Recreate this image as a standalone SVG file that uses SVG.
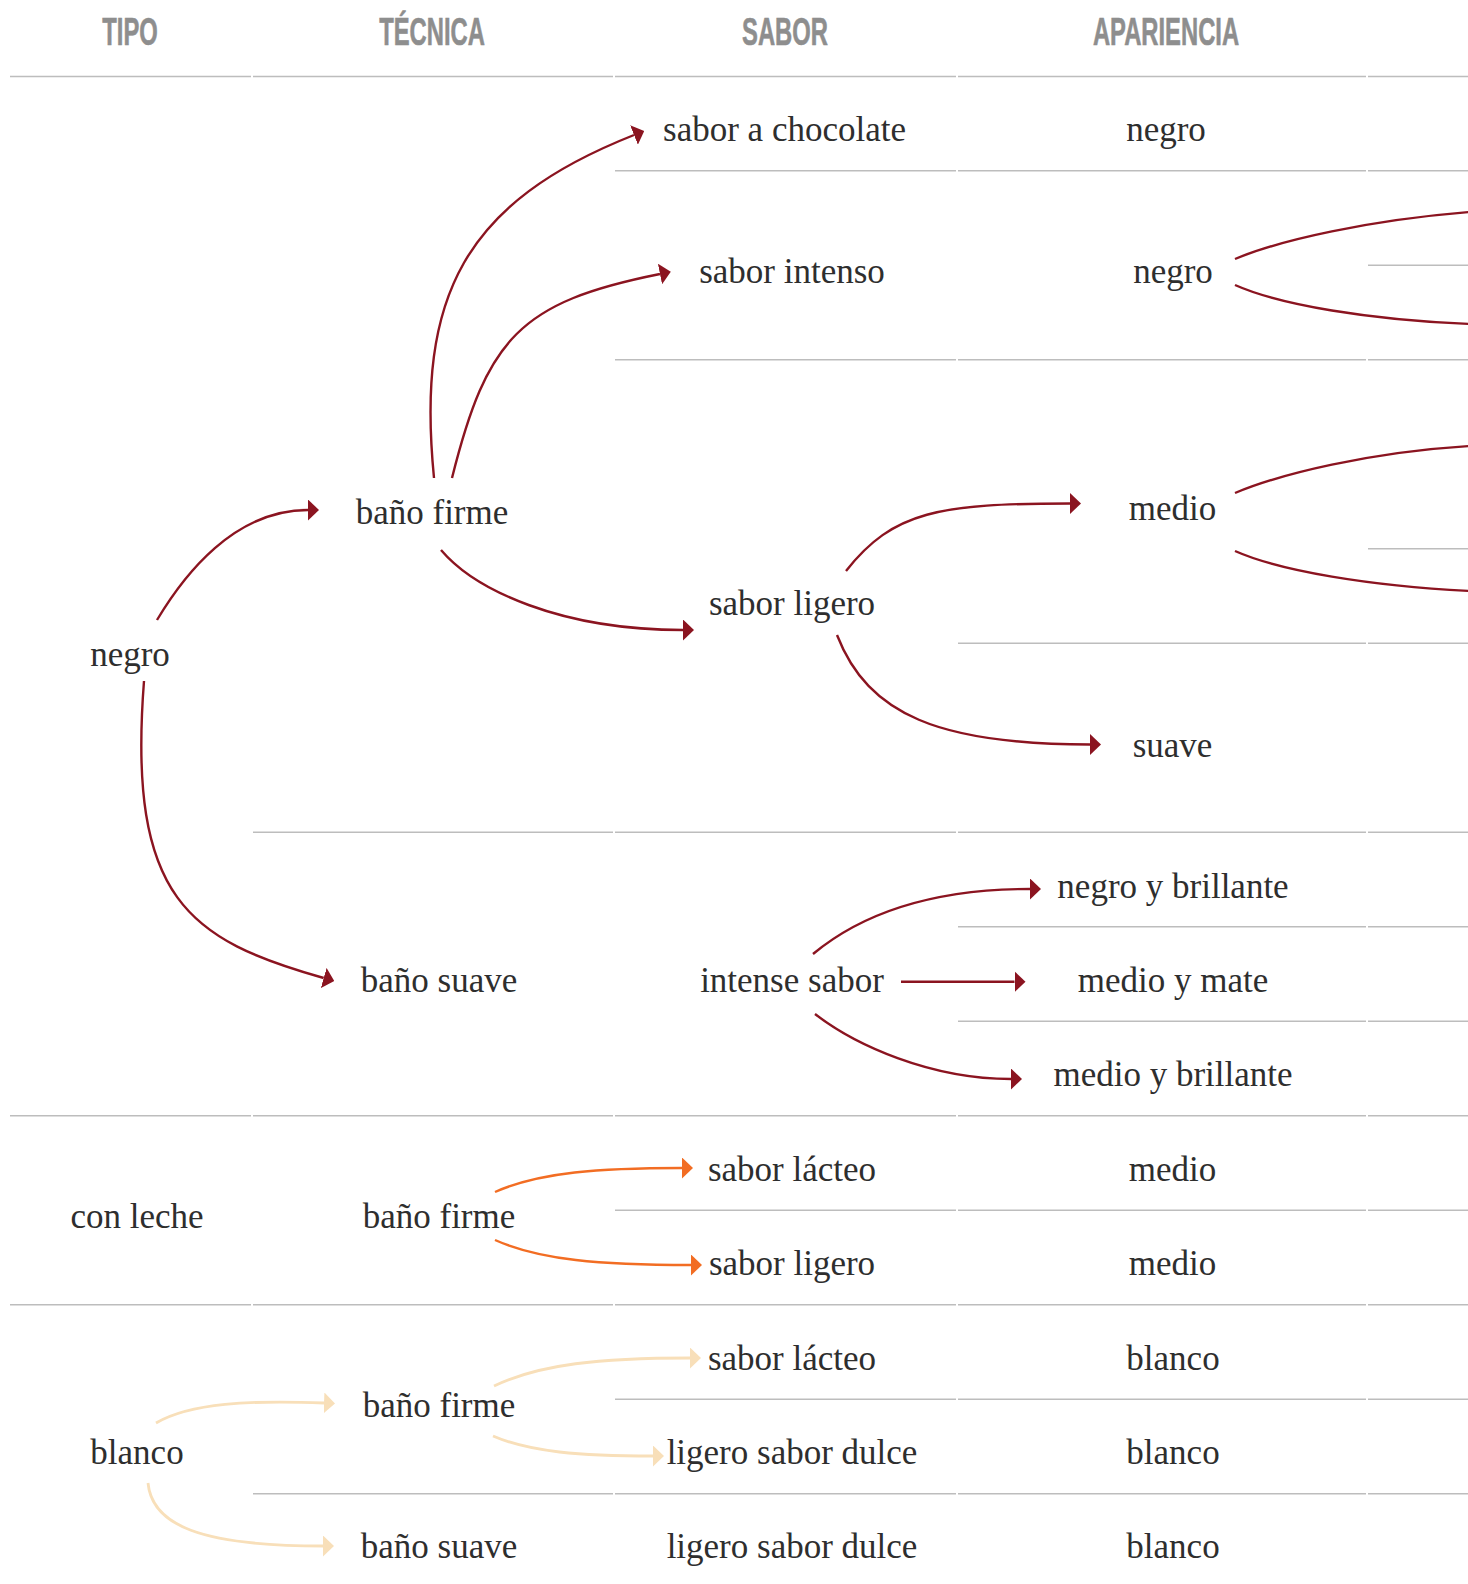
<svg xmlns="http://www.w3.org/2000/svg" width="1468" height="1584" viewBox="0 0 1468 1584">
  <defs>
    <style>
      .hdr { font-family: "Liberation Sans", Arial, sans-serif; font-weight: bold; font-size: 39px; fill: #8e8e8e; stroke: #8e8e8e; stroke-width: 0.6; text-anchor: middle; }
      .lbl { font-family: "Liberation Serif", "Times New Roman", serif; font-size: 35px; fill: #2e2e2e; text-anchor: middle; }
      .grid line { stroke: #bdbdbd; stroke-width: 1.5; }
      .c { fill: none; stroke-width: 2.4; stroke-linecap: butt; }
      .red { stroke: #8b1420; }
      .org { stroke: #f26d23; }
      .crm { stroke: #f8dfb9; stroke-width: 2.8; }
      .ar-red { marker-end: url(#mRed); }
      .ar-org { marker-end: url(#mOrg); }
      .ar-crm { marker-end: url(#mCrm); }
    </style>
    <marker id="mRed" markerUnits="userSpaceOnUse" viewBox="0 0 11 21" markerWidth="11" markerHeight="21" refX="0" refY="10.5" orient="auto">
      <path d="M0,0 L11,10.5 L0,21 Z" fill="#8b1420"/>
    </marker>
    <marker id="mOrg" markerUnits="userSpaceOnUse" viewBox="0 0 11 21" markerWidth="11" markerHeight="21" refX="0" refY="10.5" orient="auto">
      <path d="M0,0 L11,10.5 L0,21 Z" fill="#f26d23"/>
    </marker>
    <marker id="mCrm" markerUnits="userSpaceOnUse" viewBox="0 0 11 21" markerWidth="11" markerHeight="21" refX="0" refY="10.5" orient="auto">
      <path d="M0,0 L11,10.5 L0,21 Z" fill="#f8dfb9"/>
    </marker>
  </defs>

  <rect width="1468" height="1584" fill="#ffffff"/>

  <g id="headers">
    <text class="hdr" transform="translate(130 45) scale(0.61 1)">TIPO</text>
    <text class="hdr" transform="translate(432 45) scale(0.61 1)">TÉCNICA</text>
    <text class="hdr" transform="translate(785 45) scale(0.61 1)">SABOR</text>
    <text class="hdr" transform="translate(1166 45) scale(0.61 1)">APARIENCIA</text>
  </g>

  <g id="grid" class="grid">
    <line x1="10" y1="76.5" x2="251" y2="76.5"/><line x1="253" y1="76.5" x2="613" y2="76.5"/><line x1="615" y1="76.5" x2="956" y2="76.5"/><line x1="958" y1="76.5" x2="1366" y2="76.5"/><line x1="1368" y1="76.5" x2="1468" y2="76.5"/>
    <line x1="615" y1="170.7" x2="956" y2="170.7"/><line x1="958" y1="170.7" x2="1366" y2="170.7"/><line x1="1368" y1="170.7" x2="1468" y2="170.7"/>
    <line x1="1368" y1="265.2" x2="1468" y2="265.2"/>
    <line x1="615" y1="359.7" x2="956" y2="359.7"/><line x1="958" y1="359.7" x2="1366" y2="359.7"/><line x1="1368" y1="359.7" x2="1468" y2="359.7"/>
    <line x1="1368" y1="548.7" x2="1468" y2="548.7"/>
    <line x1="958" y1="643.2" x2="1366" y2="643.2"/><line x1="1368" y1="643.2" x2="1468" y2="643.2"/>
    <line x1="253" y1="832.2" x2="613" y2="832.2"/><line x1="615" y1="832.2" x2="956" y2="832.2"/><line x1="958" y1="832.2" x2="1366" y2="832.2"/><line x1="1368" y1="832.2" x2="1468" y2="832.2"/>
    <line x1="958" y1="926.7" x2="1366" y2="926.7"/><line x1="1368" y1="926.7" x2="1468" y2="926.7"/>
    <line x1="958" y1="1021.2" x2="1366" y2="1021.2"/><line x1="1368" y1="1021.2" x2="1468" y2="1021.2"/>
    <line x1="10" y1="1115.7" x2="251" y2="1115.7"/><line x1="253" y1="1115.7" x2="613" y2="1115.7"/><line x1="615" y1="1115.7" x2="956" y2="1115.7"/><line x1="958" y1="1115.7" x2="1366" y2="1115.7"/><line x1="1368" y1="1115.7" x2="1468" y2="1115.7"/>
    <line x1="615" y1="1210.2" x2="956" y2="1210.2"/><line x1="958" y1="1210.2" x2="1366" y2="1210.2"/><line x1="1368" y1="1210.2" x2="1468" y2="1210.2"/>
    <line x1="10" y1="1304.7" x2="251" y2="1304.7"/><line x1="253" y1="1304.7" x2="613" y2="1304.7"/><line x1="615" y1="1304.7" x2="956" y2="1304.7"/><line x1="958" y1="1304.7" x2="1366" y2="1304.7"/><line x1="1368" y1="1304.7" x2="1468" y2="1304.7"/>
    <line x1="615" y1="1399.2" x2="956" y2="1399.2"/><line x1="958" y1="1399.2" x2="1366" y2="1399.2"/><line x1="1368" y1="1399.2" x2="1468" y2="1399.2"/>
    <line x1="253" y1="1493.7" x2="613" y2="1493.7"/><line x1="615" y1="1493.7" x2="956" y2="1493.7"/><line x1="958" y1="1493.7" x2="1366" y2="1493.7"/><line x1="1368" y1="1493.7" x2="1468" y2="1493.7"/>
  </g>

  <g id="connectors">
    <path class="c red ar-red" d="M157,620 C184,575 234,510 308,510"/>
    <path class="c red ar-red" d="M434,478 C416,295 465,202 634,135"/>
    <path class="c red ar-red" d="M452,478 C487,338 520,302 660,274"/>
    <path class="c red ar-red" d="M441,550 C475,590 560,630 683,630"/>
    <path class="c red ar-red" d="M144,681 C127,900 190,940 323.7,978"/>
    <path class="c red ar-red" d="M846,571 C893,511 940,503.5 1070,503.5"/>
    <path class="c red ar-red" d="M837,635 C868,715 940,744.5 1090,744.5"/>
    <path class="c red ar-red" d="M813,954 C860,915 930,889 1030,889"/>
    <path class="c red ar-red" d="M901,981.7 L1014.5,981.7"/>
    <path class="c red ar-red" d="M815,1014 C855,1045 930,1079 1011,1079"/>
    <path class="c red" d="M1235,259 C1280,240 1370,220 1470,212"/>
    <path class="c red" d="M1235,285 C1280,305 1370,320 1470,324"/>
    <path class="c red" d="M1235,493 C1280,474 1370,452 1470,446"/>
    <path class="c red" d="M1235,551 C1280,571 1370,586 1470,591"/>
    <path class="c org ar-org" d="M495,1192 C540,1172 600,1168 682,1168"/>
    <path class="c org ar-org" d="M495,1240 C540,1260 600,1265 691,1265"/>
    <path class="c crm ar-crm" d="M494,1386 C540,1364 600,1358 690,1358"/>
    <path class="c crm ar-crm" d="M493,1436 C530,1452 580,1456 653,1456"/>
    <path class="c crm ar-crm" d="M156,1423 C190,1403 250,1400 324,1403"/>
    <path class="c crm ar-crm" d="M148,1483 C152,1525 200,1546 323,1546"/>
  </g>

  <g id="nodes">
    <g id="tipo-negro"><text class="lbl" x="130" y="665.5">negro</text></g>
    <g id="tipo-con-leche"><text class="lbl" x="137" y="1228">con leche</text></g>
    <g id="tipo-blanco"><text class="lbl" x="137" y="1463.5">blanco</text></g>

    <g id="tec-negro-firme"><text class="lbl" x="432" y="523.5">baño firme</text></g>
    <g id="tec-negro-suave"><text class="lbl" x="439" y="992">baño suave</text></g>
    <g id="tec-leche-firme"><text class="lbl" x="439" y="1228">baño firme</text></g>
    <g id="tec-blanco-firme"><text class="lbl" x="439" y="1417">baño firme</text></g>
    <g id="tec-blanco-suave"><text class="lbl" x="439" y="1558">baño suave</text></g>

    <g id="sab-chocolate"><text class="lbl" x="784.5" y="141">sabor a chocolate</text></g>
    <g id="sab-intenso"><text class="lbl" x="792" y="283">sabor intenso</text></g>
    <g id="sab-ligero"><text class="lbl" x="792" y="614.5">sabor ligero</text></g>
    <g id="sab-intense"><text class="lbl" x="792" y="992">intense sabor</text></g>
    <g id="sab-lacteo-1"><text class="lbl" x="792" y="1181">sabor lácteo</text></g>
    <g id="sab-ligero-2"><text class="lbl" x="792" y="1275">sabor ligero</text></g>
    <g id="sab-lacteo-2"><text class="lbl" x="792" y="1370">sabor lácteo</text></g>
    <g id="sab-dulce-1"><text class="lbl" x="792" y="1464">ligero sabor dulce</text></g>
    <g id="sab-dulce-2"><text class="lbl" x="792" y="1558">ligero sabor dulce</text></g>

    <g id="ap-negro-1"><text class="lbl" x="1166" y="141">negro</text></g>
    <g id="ap-negro-2"><text class="lbl" x="1173" y="283">negro</text></g>
    <g id="ap-medio-1"><text class="lbl" x="1172.5" y="519.5">medio</text></g>
    <g id="ap-suave"><text class="lbl" x="1172.5" y="756.5">suave</text></g>
    <g id="ap-negro-brillante"><text class="lbl" x="1173" y="897.5">negro y brillante</text></g>
    <g id="ap-medio-mate"><text class="lbl" x="1173" y="992">medio y mate</text></g>
    <g id="ap-medio-brillante"><text class="lbl" x="1173" y="1086">medio y brillante</text></g>
    <g id="ap-medio-2"><text class="lbl" x="1172.5" y="1181">medio</text></g>
    <g id="ap-medio-3"><text class="lbl" x="1172.5" y="1275">medio</text></g>
    <g id="ap-blanco-1"><text class="lbl" x="1173" y="1370">blanco</text></g>
    <g id="ap-blanco-2"><text class="lbl" x="1173" y="1464">blanco</text></g>
    <g id="ap-blanco-3"><text class="lbl" x="1173" y="1558">blanco</text></g>
  </g>
</svg>
